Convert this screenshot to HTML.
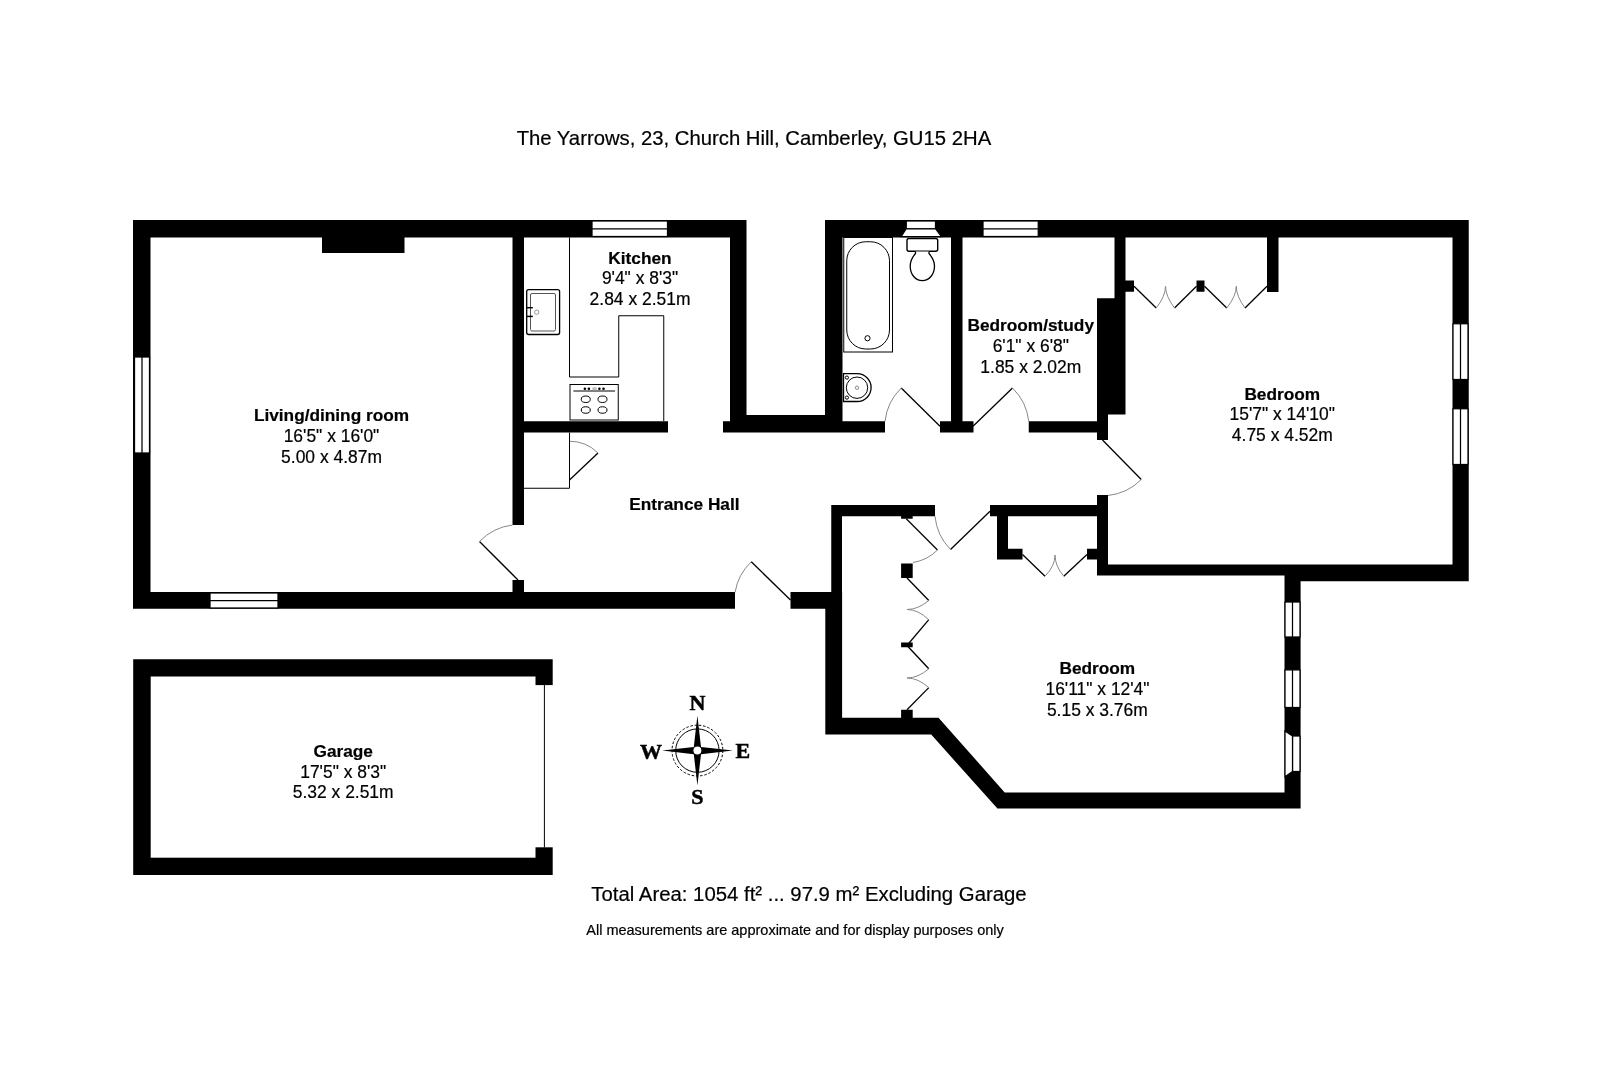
<!DOCTYPE html>
<html><head><meta charset="utf-8">
<style>
html,body{margin:0;padding:0;background:#fff;width:1602px;height:1080px;overflow:hidden}
svg{display:block;will-change:transform}
text{font-family:"Liberation Sans",sans-serif;fill:#000;stroke:#000;stroke-width:0.2}
.b{font-weight:bold;font-size:17.25px}
.n{font-size:17.45px}
.ser{font-family:"Liberation Serif",serif;font-weight:bold;font-size:22px;stroke:#000;stroke-width:0.5}
.win{fill:#fff;stroke:#000;stroke-width:1.25}
.dl{stroke:#000;stroke-width:1.3;fill:none}
.arc{stroke:#888;stroke-width:1;fill:none}
.fx{stroke:#000;stroke-width:1;fill:#fff}
</style></head><body>
<svg width="1602" height="1080" viewBox="0 0 1602 1080">
<rect width="1602" height="1080" fill="#fff"/>
<!-- title -->
<text x="753.9" y="144.6" text-anchor="middle" style="font-size:20.3px">The Yarrows, 23, Church Hill, Camberley, GU15 2HA</text>

<path fill="#000" d="M133,220h613.5v17.5h-613.5z M133,220h17.5v388.75h-17.5z M133,592h602v16.75h-602z M322,237h82.5v16h-82.5z M512.5,237h11.5v288h-11.5z M512.5,580h11.5v13h-11.5z M730,220h16.5v212.5h-16.5z M512.5,421.25h155.5v11.25h-155.5z M723,421.25h10v11.25h-10z M746,415h80v17.5h-80z M825,220h17.5v212.5h-17.5z M825,220h643.75v17.5h-643.75z M825,421.25h60v11.25h-60z M940,421.25h33.5v11.25h-33.5z M951,237h11.5v195.5h-11.5z M1028.75,421.25h69v11.25h-69z M1114.5,237h11v62h-11z M1097,298.25h28.5v116.25h-28.5z M1097,414h11v26h-11z M1267,237h11.5v55h-11.5z M1125,280.5h9v11.25h-9z M1196.5,280.5h8v11.25h-8z M1452.5,220h16.25v361.25h-16.25z M1097,495h11v80.5h-11z M1097,564.5h371.75v11h-371.75z M1300,564.5h168.75v16.75h-168.75z M831.25,505h103.75v11.25h-103.75z M990,505h107.5v11.25h-107.5z M831.25,505h10.75v90h-10.75z M790.5,592h51.5v16.75h-51.5z M825.3,592h16.8v142.6h-16.8z M1284.5,575h16.1v233.5h-16.1z M997,516h11v43.5h-11z M997,548.75h25.5v10.75h-25.5z M1087,548.75h10.5v10.75h-10.5z M901.1,516h11.6v2.75h-11.6z M901.1,563.6h11.6v14.4h-11.6z M901.1,642.6h11.6v4.6h-11.6z M901.1,709.8h11.6v8h-11.6z M133.2,659.2h419.5v215.7h-419.5z M825.3,717.7 L938.5,717.7 L1004.7,792.4 L1300.6,792.4 L1300.6,808.5 L997.4,808.5 L931.2,734.6 L825.3,734.6z"/>

<rect x="150.7" y="676.5" width="384.8" height="181.2" fill="#fff"/>
<rect x="535" y="685.1" width="18" height="162.2" fill="#fff"/>
<line x1="544.4" y1="685" x2="544.4" y2="847.5" stroke="#000" stroke-width="1"/>

<!-- windows -->
<g class="win">
<rect x="134.5" y="357" width="15" height="96"/><line x1="142" y1="357" x2="142" y2="453"/>
<rect x="210" y="593" width="68" height="15"/><line x1="210" y1="600.5" x2="278" y2="600.5"/>
<rect x="592" y="221" width="75.5" height="15.5"/><line x1="592" y1="228.75" x2="667.5" y2="228.75"/>
<rect x="983" y="221" width="55.25" height="15.5"/><line x1="983" y1="228.75" x2="1038.25" y2="228.75"/>
<rect x="906.25" y="221" width="29.25" height="7.75"/>
<polygon points="906.25,228.75 935.5,228.75 941.25,236.5 901.25,236.5"/>
<rect x="1453" y="323.75" width="15" height="55.75"/><line x1="1460.5" y1="323.75" x2="1460.5" y2="379.5"/>
<rect x="1453" y="408.75" width="15" height="55.75"/><line x1="1460.5" y1="408.75" x2="1460.5" y2="464.5"/>
<rect x="1285" y="602" width="15" height="35"/><line x1="1292.5" y1="602" x2="1292.5" y2="637"/>
<rect x="1285" y="669.9" width="15" height="37.6"/><line x1="1292.5" y1="669.9" x2="1292.5" y2="707.5"/>
<rect x="1292.5" y="736" width="7.5" height="35.5"/><polygon points="1285,731 1292.5,736 1292.5,771.5 1285,776.7"/>
</g>

<!-- doors -->
<g class="dl">
<line x1="479.5" y1="541.5" x2="518" y2="580"/>
<line x1="569.5" y1="480" x2="598" y2="453"/>
<line x1="751.25" y1="561.75" x2="790.5" y2="600"/>
<line x1="901.25" y1="388" x2="940" y2="426.25"/>
<line x1="973" y1="426.25" x2="1012.5" y2="388"/>
<line x1="1102.5" y1="440" x2="1141.25" y2="479.5"/>
<line x1="990" y1="511.25" x2="950.5" y2="549.5"/>
<line x1="906.25" y1="518.75" x2="937.5" y2="550"/>
<!-- bifolds -->
<polyline points="1134,286.25 1156.25,308"/><polyline points="1174.5,308 1196.5,286.25"/>
<polyline points="1204.5,286.25 1226.75,308"/><polyline points="1245,308 1267,286.25"/>
<polyline points="1022.5,554.5 1045,576.25"/><polyline points="1063.75,576.25 1087,554.5"/>
<polyline points="907,578 928.8,600.5"/><polyline points="928.8,619.7 907,645.5"/>
<polyline points="907,645.5 928.8,668.8"/><polyline points="928.8,687.6 907,709.8"/>
</g>
<g class="arc">
<path d="M479.5,541.5 A55,55 0 0 1 512.5,525"/>
<path d="M598,453 A40,40 0 0 0 569.5,441.25"/>
<path d="M751.25,561.75 A55,55 0 0 0 735,592.5"/>
<path d="M901.25,388 A55,55 0 0 0 885,421.25"/>
<path d="M1012.5,388 A55,55 0 0 1 1028.75,421.25"/>
<path d="M1141.25,479.5 A55,55 0 0 1 1108,495.5"/>
<path d="M950.5,549.5 A55,55 0 0 1 935,516.25"/>
<path d="M937.5,550 A45,45 0 0 1 913,562.5"/>
<path d="M1156.25,308 Q1165.5,296 1165.5,286.25 Q1165.5,296 1174.5,308"/>
<path d="M1226.75,308 Q1236.25,296 1236.25,286.25 Q1236.25,296 1245,308"/>
<path d="M1045,576.25 Q1055,566 1055,555 Q1055,566 1063.75,576.25"/>
<path d="M928.8,600.5 Q918,609.5 907,609.5 Q918,609.5 928.8,619.7"/>
<path d="M928.8,668.8 Q918,678 907,678 Q918,678 928.8,687.6"/>
</g>

<!-- fixtures -->
<g class="fx">
<rect x="843.75" y="237.5" width="48.75" height="114.5" fill="#fff"/>
<rect x="846.75" y="241.75" width="42.75" height="107.25" rx="19" ry="19"/>
<circle cx="867.5" cy="338.25" r="2.6"/>
<rect x="907" y="238.5" width="30.7" height="12.7" rx="2" stroke-width="1.4"/>
<path d="M915.5,251.5 L915.5,253.5 C912.5,257 910.2,261 910.2,266 C910.2,274.5 915.5,280.7 922.3,280.7 C929,280.7 934.5,274.5 934.5,266 C934.5,261 932,257 929,253.5 L929,251.5" stroke-width="1.3"/>
<path d="M843.5,373.7 L857.2,373.7 A13.9,13.9 0 0 1 857.2,401.5 L843.5,401.5 Z" stroke-width="1.3"/>
<circle cx="857" cy="387.7" r="10.7"/>
<circle cx="857" cy="387.7" r="1.7" stroke="#888"/>
<circle cx="846.9" cy="377.6" r="1.6"/>
<circle cx="846.9" cy="397.6" r="1.6"/>
<rect x="526.7" y="289.6" width="32.9" height="44.9" rx="2" stroke-width="1.3"/>
<rect x="530.5" y="293.5" width="25" height="37.5" rx="1.5" stroke="#555"/>
<circle cx="536.7" cy="312.2" r="2.2" stroke="#999"/>
<rect x="570" y="384.5" width="48.25" height="35.5"/>
<ellipse cx="585.75" cy="399.25" rx="4.5" ry="3.25"/>
<ellipse cx="602.5" cy="399.25" rx="4.5" ry="3.25"/>
<ellipse cx="585.75" cy="410" rx="4.5" ry="3.25"/>
<ellipse cx="602.5" cy="410" rx="4.5" ry="3.25"/>
</g>
<g fill="none" stroke="#000" stroke-width="1">
<polyline points="569.5,237.5 569.5,377 618.75,377 618.75,315.75 663.75,315.75 663.75,421"/>
<line x1="573.4" y1="391" x2="615" y2="391"/>
<polyline points="524,488.25 569.5,488.25 569.5,432.5"/>
<line x1="527" y1="307.7" x2="532.8" y2="307.7" stroke-width="1.5"/>
<line x1="527" y1="316.4" x2="532.8" y2="316.4" stroke-width="1.5"/>
</g>

<g fill="#000"><circle cx="584.9" cy="388.7" r="1.3"/><circle cx="588.9" cy="388.7" r="1.3"/><circle cx="599.4" cy="388.7" r="1.3"/><circle cx="603.5" cy="388.7" r="1.3"/></g>
<rect x="592.4" y="387.3" width="4.2" height="2.8" fill="#bbb"/>
<!-- compass -->
<g transform="translate(697.4,750.6)">
<circle r="25.4" fill="none" stroke="#000" stroke-width="1" stroke-dasharray="2.5,1.8"/>
<circle r="21.7" fill="none" stroke="#000" stroke-width="1"/>
<polygon points="0,-35 3.6,-3.6 35.4,0 3.6,3.6 0,35 -3.6,3.6 -35.2,0 -3.6,-3.6" fill="#000"/>
<circle r="4.6" fill="#fff" stroke="#000" stroke-width="1.2"/>
</g>
<text class="ser" x="697.4" y="709.9" text-anchor="middle">N</text>
<text class="ser" x="650.9" y="758.8" text-anchor="middle">W</text>
<text class="ser" x="742.8" y="758.3" text-anchor="middle">E</text>
<text class="ser" x="697.4" y="804.1" text-anchor="middle">S</text>

<!-- labels -->
<text class="b" x="331.5" y="421" text-anchor="middle">Living/dining room</text>
<text class="n" x="331.5" y="442" text-anchor="middle">16'5" x 16'0"</text>
<text class="n" x="331.5" y="463" text-anchor="middle">5.00 x 4.87m</text>

<text class="b" x="640" y="263.5" text-anchor="middle">Kitchen</text>
<text class="n" x="640" y="284.2" text-anchor="middle">9'4" x 8'3"</text>
<text class="n" x="640" y="305.3" text-anchor="middle">2.84 x 2.51m</text>

<text class="b" x="1030.75" y="331.25" text-anchor="middle">Bedroom/study</text>
<text class="n" x="1030.75" y="352.2" text-anchor="middle">6'1" x 6'8"</text>
<text class="n" x="1030.75" y="373" text-anchor="middle">1.85 x 2.02m</text>

<text class="b" x="1282.25" y="399.6" text-anchor="middle">Bedroom</text>
<text class="n" x="1282.25" y="419.8" text-anchor="middle">15'7" x 14'10"</text>
<text class="n" x="1282.25" y="440.8" text-anchor="middle">4.75 x 4.52m</text>

<text class="b" x="684.4" y="510" text-anchor="middle">Entrance Hall</text>

<text class="b" x="1097.3" y="673.5" text-anchor="middle">Bedroom</text>
<text class="n" x="1097.5" y="695" text-anchor="middle">16'11" x 12'4"</text>
<text class="n" x="1097.3" y="716" text-anchor="middle">5.15 x 3.76m</text>

<text class="b" x="343.2" y="756.8" text-anchor="middle">Garage</text>
<text class="n" x="343.2" y="777.9" text-anchor="middle">17'5" x 8'3"</text>
<text class="n" x="343.2" y="798" text-anchor="middle">5.32 x 2.51m</text>

<text x="809" y="900.8" text-anchor="middle" style="font-size:20.35px">Total Area: 1054 ft² ... 97.9 m² Excluding Garage</text>
<text x="795" y="935.3" text-anchor="middle" style="font-size:14.5px">All measurements are approximate and for display purposes only</text>
</svg>
</body></html>
